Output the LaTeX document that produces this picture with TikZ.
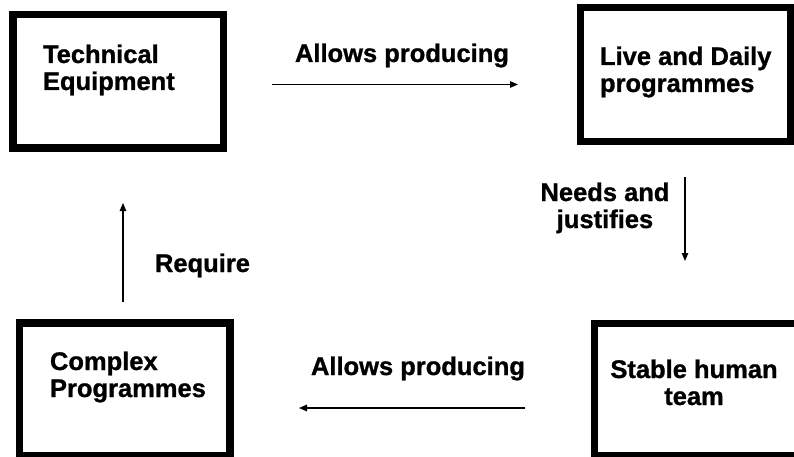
\documentclass[tikz,border=0pt]{standalone}
\usepackage{fontspec}
\setmainfont{Liberation Sans}[BoldFeatures={FakeBold=1}]
\usetikzlibrary{arrows.meta}
\tikzset{
  box/.style={draw=black, line width=7.5pt, rectangle, inner sep=0pt, fill=none},
  lbl/.style={inner sep=0pt, outer sep=0pt, font=\fontsize{25.5}{27}\selectfont\bfseries},
  arr/.style={draw=black, line width=1.2pt, -{Triangle[length=8pt,width=6.5pt]}}
}
\begin{document}
\begin{tikzpicture}[x=1pt,y=-1pt]
\useasboundingbox (0,0) rectangle (794,457);
\fill[white] (0,0) rectangle (794,457);
\clip (0,0) rectangle (794,457);
% boxes
\node[box, minimum width=210.5pt, minimum height=133.5pt] (te) at (118,81.5) {};
\node[box, minimum width=210pt, minimum height=134pt] (ld) at (685.5,74.5) {};
\node[box, minimum width=208pt, minimum height=132pt] (sh) at (698.5,389.5) {};
\node[box, minimum width=210.5pt, minimum height=132.75pt] (cp) at (124.75,389.4) {};
% box texts
\node[lbl, anchor=base west] (tetxt) at (43,63) {\begin{tabular}[t]{@{}l@{}}Technical\\Equipment\end{tabular}};
\node[lbl, anchor=base west] (ldtxt) at (600,65) {\begin{tabular}[t]{@{}l@{}}Live and Daily\\programmes\end{tabular}};
\node[lbl, anchor=base] (shtxt) at (694,378) {\begin{tabular}[t]{@{}c@{}}Stable human\\team\end{tabular}};
\node[lbl, anchor=base west] (cptxt) at (50,370) {\begin{tabular}[t]{@{}l@{}}Complex\\Programmes\end{tabular}};
% connector labels
\node[lbl, anchor=base west] (l1) at (295,62) {Allows producing};
\node[lbl, anchor=base] (l2) at (605,201) {\begin{tabular}[t]{@{}c@{}}Needs and\\justifies\end{tabular}};
\node[lbl, anchor=base west] (l3) at (311,375) {Allows producing};
\node[lbl, anchor=base west] (l4) at (155,272) {Require};
% connector ends
\coordinate (a1s) at (272,84.5);
\coordinate (a1e) at (518,84.5);
\coordinate (a2s) at (685,177);
\coordinate (a2e) at (685,261);
\coordinate (a3s) at (525,408);
\coordinate (a3e) at (299,408);
\coordinate (a4s) at (123,302);
\coordinate (a4e) at (123,203);
\draw[arr] (a1s) -- (a1e);
\draw[arr] (a2s) -- (a2e);
\draw[arr] (a3s) -- (a3e);
\draw[arr] (a4s) -- (a4e);
\end{tikzpicture}
\end{document}
